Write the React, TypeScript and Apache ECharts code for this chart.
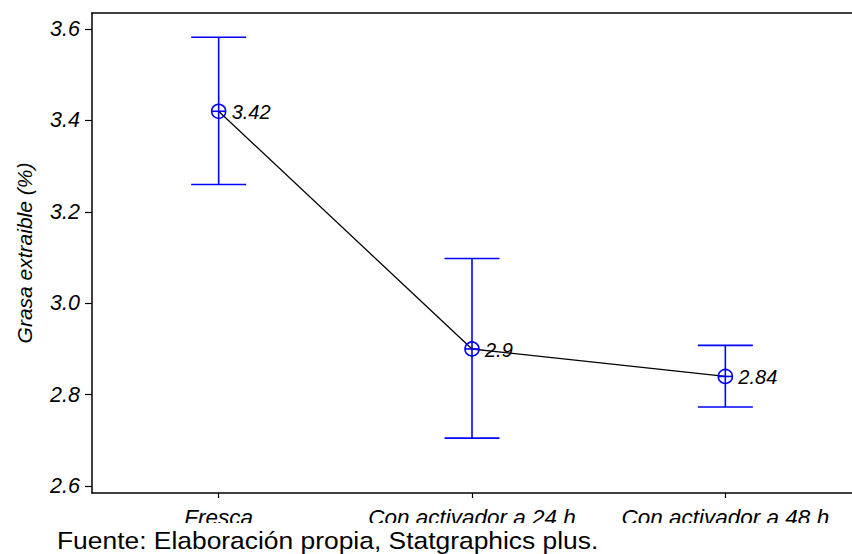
import React, { useEffect, useRef } from "react";
import * as echarts from "echarts";

const categories = ["Fresca", "Con activador a 24 h", "Con activador a 48 h"];
const means = [3.42, 2.9, 2.84];
const lower = [3.26, 2.705, 2.773];
const upper = [3.582, 3.098, 2.908];
const yTicks = [2.6, 2.8, 3.0, 3.2, 3.4, 3.6];
const yTitle = "Grasa extraible (%)";
const footer = "Fuente: Elaboración propia, Statgraphics plus.";

const FONT = "'Liberation Sans', Arial, sans-serif";
const BLUE = "#0000ff";

export default function App() {
  const ref = useRef<HTMLDivElement>(null);
  useEffect(() => {
    if (!ref.current) return;
    const chart = echarts.init(ref.current, null, { renderer: "svg" });
    const errData = categories.map((_, i) => [i, lower[i], upper[i], means[i]]);
    chart.setOption({
      animation: false,
      backgroundColor: "#fff",
      grid: { left: 92, top: 13, width: 768, height: 480, containLabel: false },
      xAxis: [
        {
          type: "category",
          data: categories,
          boundaryGap: true,
          axisLine: { show: true, lineStyle: { color: "#000", width: 1.5 } },
          axisTick: { show: true, alignWithLabel: true, length: 5, lineStyle: { color: "#000", width: 1.2 } },
          axisLabel: {
            margin: 13,
            color: "#000",
            fontFamily: FONT,
            fontStyle: "italic",
            fontSize: 22.5,
            interval: 0,
          },
          splitLine: { show: false },
        },
        {
          type: "category",
          data: categories,
          position: "top",
          axisLine: { show: true, lineStyle: { color: "#000", width: 1.5 } },
          axisTick: { show: false },
          axisLabel: { show: false },
        },
      ],
      yAxis: {
        type: "value",
        min: 2.585,
        max: 3.635,
        name: yTitle,
        nameLocation: "middle",
        nameGap: 57,
        nameRotate: 90,
        nameTextStyle: { color: "#000", fontFamily: FONT, fontStyle: "italic", fontSize: 21 },
        axisLine: { show: true, lineStyle: { color: "#000", width: 1.5 } },
        axisTick: { show: true, length: 7, customValues: yTicks, lineStyle: { color: "#000", width: 1.2 } },
        axisLabel: {
          customValues: yTicks,
          margin: 12,
          color: "#000",
          fontFamily: FONT,
          fontStyle: "italic",
          fontSize: 21.5,
          formatter: (v: number) => v.toFixed(1),
        },
        splitLine: { show: false },
      },
      series: [
        {
          type: "line",
          data: means,
          symbol: "none",
          lineStyle: { color: "#000", width: 1.3 },
          z: 2,
        },
        {
          type: "custom",
          z: 3,
          data: errData,
          renderItem: (params: any, api: any) => {
            const x = api.coord([api.value(0), api.value(3)])[0];
            const yLo = api.coord([api.value(0), api.value(1)])[1];
            const yHi = api.coord([api.value(0), api.value(2)])[1];
            const yM = api.coord([api.value(0), api.value(3)])[1];
            const half = 27.5;
            const r = 7;
            const st = { stroke: BLUE, lineWidth: 1.6, fill: "none" };
            return {
              type: "group",
              children: [
                { type: "line", shape: { x1: x, y1: yLo, x2: x, y2: yHi }, style: st },
                { type: "line", shape: { x1: x - half, y1: yHi, x2: x + half, y2: yHi }, style: st },
                { type: "line", shape: { x1: x - half, y1: yLo, x2: x + half, y2: yLo }, style: st },
                { type: "circle", shape: { cx: x, cy: yM, r }, style: { stroke: BLUE, lineWidth: 1.6, fill: "none" } },
                { type: "line", shape: { x1: x - r, y1: yM, x2: x + r, y2: yM }, style: st },
                {
                  type: "text",
                  x: x + 13,
                  y: yM + 1,
                  style: {
                    text: String(api.value(3)),
                    fill: "#000",
                    font: `italic 20px ${FONT}`,
                    verticalAlign: "middle",
                    align: "left",
                  },
                },
              ],
            };
          },
        },
      ],
      graphic: [
        {
          type: "rect",
          z: 100,
          shape: { x: 0, y: 523, width: 852, height: 31 },
          style: { fill: "#fff" },
        },
        {
          type: "text",
          z: 101,
          x: 57,
          y: 540,
          scaleX: 1.1,
          style: {
            text: footer,
            fill: "#000",
            font: `24px ${FONT}`,
            verticalAlign: "middle",
            align: "left",
          },
        },
      ],
    });
    return () => chart.dispose();
  }, []);
  return <div ref={ref} style={{ width: 852, height: 554, position: "absolute", left: 0, top: 0 }} />;
}
